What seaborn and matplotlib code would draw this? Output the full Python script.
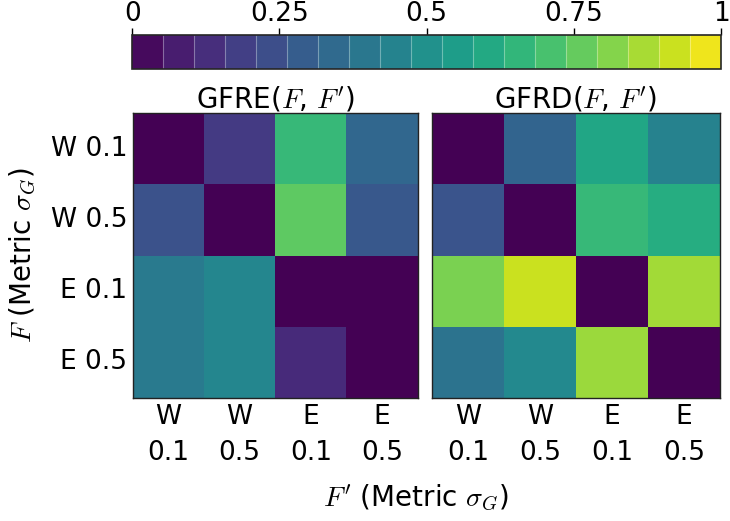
import numpy as np
import pandas as pd
import matplotlib
matplotlib.use('Agg')
import matplotlib.pyplot as plt
import seaborn as sns

labels_y = ['W 0.1', 'W 0.5', 'E 0.1', 'E 0.5']
labels_x = ['W\n0.1', 'W\n0.5', 'E\n0.1', 'E\n0.5']
gfre = [[0.00, 0.17, 0.67, 0.33],
        [0.25, 0.00, 0.75, 0.27],
        [0.41, 0.46, 0.00, 0.00],
        [0.41, 0.46, 0.12, 0.00]]
gfrd = [[0.00, 0.32, 0.59, 0.44],
        [0.26, 0.00, 0.67, 0.62],
        [0.80, 0.92, 0.00, 0.86],
        [0.38, 0.47, 0.85, 0.00]]
cbar_ticks = [0, 0.25, 0.5, 0.75, 1]
cbar_ticklabels = ['0', '0.25', '0.5', '0.75', '1']

sns.set_style('white')
plt.rcParams['font.family'] = ['DejaVu Sans']
plt.rcParams['mathtext.fontset'] = 'cm'
plt.rcParams['text.color'] = 'black'
plt.rcParams['xtick.color'] = 'black'
plt.rcParams['ytick.color'] = 'black'
fs = 19

fig = plt.figure(figsize=(7.3, 5.21), dpi=100)
cax = fig.add_axes([0.181, 0.8676, 0.807, 0.065])
ax1 = fig.add_axes([0.182, 0.236, 0.390, 0.547])
ax2 = fig.add_axes([0.592, 0.236, 0.394, 0.547])

df1 = pd.DataFrame(gfre, index=labels_y, columns=labels_x)
df2 = pd.DataFrame(gfrd, index=labels_y, columns=labels_x)
sns.heatmap(df1, ax=ax1, cmap='viridis', vmin=0, vmax=1, cbar=False)
sns.heatmap(df2, ax=ax2, cmap='viridis', vmin=0, vmax=1, cbar=False)

for ax, title in [(ax1, r"GFRE($F$, $F'$)"), (ax2, r"GFRD($F$, $F'$)")]:
    ax.set_title(title, fontsize=fs + 1, pad=4, color='black')
    ax.set_xlabel('')
    ax.set_ylabel('')
    ax.tick_params(length=0, labelsize=fs, pad=4, colors='black')
    ax.set_xticklabels(labels_x, rotation=0, fontsize=fs, linespacing=1.5)
    for s in ax.spines.values():
        s.set_visible(True)
        s.set_color('#222222')
        s.set_linewidth(1)
ax1.set_yticklabels(labels_y, rotation=0, fontsize=fs)
ax2.set_yticks([])

cb = fig.colorbar(ax1.collections[0], cax=cax, orientation='horizontal',
                  boundaries=np.linspace(0, 1, 20), drawedges=True)
cb.dividers.set_color('white')
cb.dividers.set_alpha(0.35)
cb.dividers.set_linewidth(0.8)
cb.outline.set_linewidth(1.2)
cax.xaxis.set_ticks_position('top')
cax.xaxis.set_label_position('top')
cb.set_ticks(cbar_ticks)
cb.set_ticklabels(cbar_ticklabels)
cax.tick_params(labelsize=fs, length=5, width=1, pad=1, colors='black')

fig.text(0.032, 0.51, r"$F$ (Metric $\sigma_G$)", rotation=90, fontsize=fs + 1,
         ha='center', va='center')
fig.text(0.57, 0.045, r"$F'$ (Metric $\sigma_G$)", fontsize=fs + 1,
         ha='center', va='center')

fig.savefig('out.png', dpi=100)
